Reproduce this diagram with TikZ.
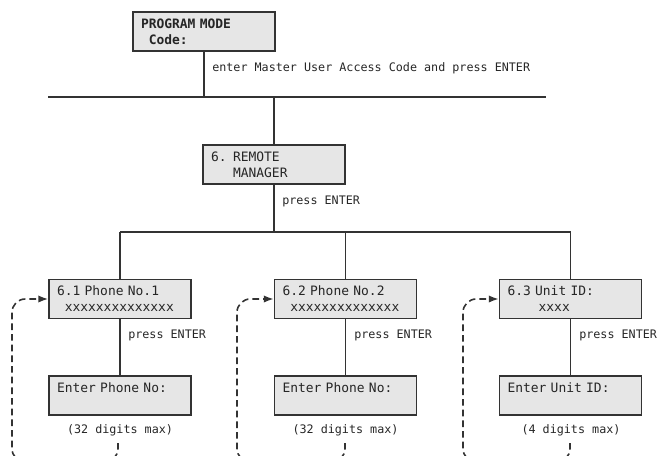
\documentclass[tikz,border=0pt]{standalone}
\usepackage{fontspec}
\setmonofont{DejaVu Sans Mono}
\usetikzlibrary{arrows.meta}
\definecolor{boxfill}{HTML}{E6E6E6}
\definecolor{ink}{HTML}{333333}
\begin{document}
\begin{tikzpicture}[x=0.75pt,y=-0.75pt,
  box/.style={draw=ink, fill=boxfill, line width=1.1pt, rectangle, text width=94.5pt,
    inner xsep=6pt, inner ysep=0pt, minimum height=29.5pt, align=left,
    font=\fontsize{9.7}{12}\ttfamily, text=black!85},
  lbl/.style={font=\fontsize{8.8}{10}\ttfamily, inner sep=0pt, text=black!85},
  conn/.style={draw=ink, line width=1pt},
  loopline/.style={draw=ink, line width=1.2pt, dash pattern=on 5pt off 3pt,
    rounded corners=10pt, -{Latex[length=7.5pt,width=5.5pt]}}
]
\useasboundingbox (0,0) rectangle (658,455);

% boxes
\node[box] (pm) at (204,31.5) {\bfseries PROGRAM MODE\\\hphantom{x}Code:};
\node[box] (rm) at (274,164.5) {6. REMOTE\\\hphantom{6. }MANAGER};
\node[box] (p1) at (120,299) {6.1 Phone No.1\\\hphantom{x}xxxxxxxxxxxxxx};
\node[box] (p2) at (345.5,299) {6.2 Phone No.2\\\hphantom{x}xxxxxxxxxxxxxx};
\node[box] (p3) at (570.5,299) {6.3 Unit ID:\\\hphantom{xxxx}xxxx};
\node[box] (e1) at (120,395.5) {Enter Phone No:\\\mbox{}};
\node[box] (e2) at (345.5,395.5) {Enter Phone No:\\\mbox{}};
\node[box] (e3) at (570.5,395.5) {Enter Unit ID:\\\mbox{}};

% connectors
\coordinate (hl1) at (48,97);
\coordinate (hr1) at (546,97);
\coordinate (jy) at (0,232);
\draw[conn] (hl1) -- (hr1);
\draw[conn] (pm.south) -- (pm.south |- hl1);
\draw[conn] (rm.north |- hl1) -- (rm.north);
\draw[conn] (rm.south) -- (rm.south |- jy);
\draw[conn] (p1.north |- jy) -- (p3.north |- jy);
\draw[conn] (p1.north |- jy) -- (p1.north);
\draw[conn] (p2.north |- jy) -- (p2.north);
\draw[conn] (p3.north |- jy) -- (p3.north);
\draw[conn] (p1.south) -- (e1.north);
\draw[conn] (p2.south) -- (e2.north);
\draw[conn] (p3.south) -- (e3.north);

% labels
\node[lbl, anchor=west] (l0) at (212,68) {enter Master User Access Code and press ENTER};
\node[lbl, anchor=west] (l1) at (282,201) {press ENTER};
\node[lbl, anchor=west] (l2) at (128,335) {press ENTER};
\node[lbl, anchor=west] (l3) at (354,335) {press ENTER};
\node[lbl, anchor=west] (l4) at (579,335) {press ENTER};
\node[lbl] (d1) at (120,430) {(32 digits max)};
\node[lbl] (d2) at (345.5,430) {(32 digits max)};
\node[lbl] (d3) at (571,430) {(4 digits max)};

% dashed loops
\coordinate (s1) at (118,443);
\coordinate (s2) at (345,443);
\coordinate (s3) at (570,443);
\begin{scope}
\clip (0,0) rectangle (658,455);
\draw[loopline] (s1) -- (118,462) -- (12,462) -- (12,299) -- (p1.west);
\draw[loopline] (s2) -- (345,462) -- (237,462) -- (237,299) -- (p2.west);
\draw[loopline] (s3) -- (570,462) -- (463,462) -- (463,299) -- (p3.west);
\end{scope}
\end{tikzpicture}
\end{document}
